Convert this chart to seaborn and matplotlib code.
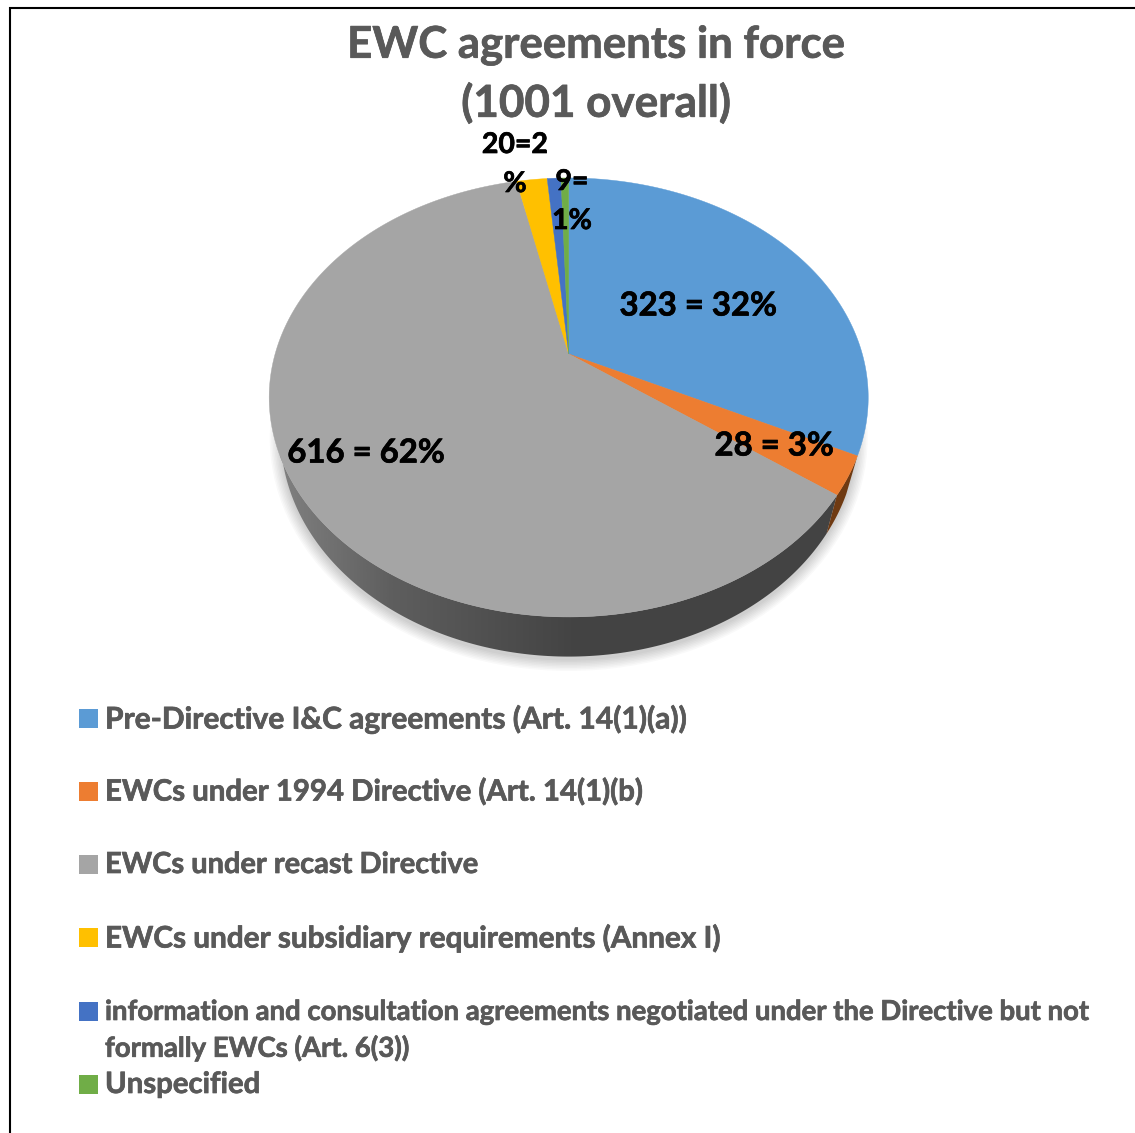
import numpy as np
import seaborn as sns
import matplotlib
matplotlib.use("Agg")
import matplotlib.pyplot as plt
import matplotlib.patheffects as pe
from matplotlib.colors import LinearSegmentedColormap
from matplotlib.patches import Polygon, Rectangle, Ellipse

sns.set_theme(style="white")
plt.rcParams['font.family'] = ['Lato', 'DejaVu Sans']

# data
categories = [
    "Pre-Directive I&C agreements (Art. 14(1)(a))",
    "EWCs under 1994 Directive (Art. 14(1)(b)",
    "EWCs under recast Directive",
    "EWCs under subsidiary requirements (Annex I)",
    "information and consultation agreements negotiated under the Directive but not\nformally EWCs (Art. 6(3))",
    "Unspecified",
]
values = [323, 28, 616, 20, 9, 5]
colors = ["#5b9bd5", "#ed7d31", "#a5a5a5", "#ffc000", "#4472c4", "#70ad47"]
title_lines = ["EWC agreements in force", "(1001 overall)"]

# slice labels, text lines with their centre in picture pixels
slice_labels = [
    ("323 = 32%", 698, 306, 23.7),
    ("28 = 3%", 774, 446, 23.7),
    ("616 = 62%", 366, 453, 23.7),
    ("20=2", 515, 145, 20.5),
    ("%", 515, 184, 20.5),
    ("9=", 572, 182, 20.5),
    ("1%", 572, 221, 20.5),
]
legend_rows = [718, 791, 864, 937, 1011, 1084]
legend_sizes = [21.55, 21.15, 20.9, 21.4, 19.8, 21.1]

TEXT_GREY = "#595959"
TILT = 0.198  # perspective strength of the pie
CX = 568.7


def project(u, v, cy, a, b):
    # circle coords to picture pixels, far side gets smaller
    w = 1 + TILT * v
    return CX + a * u / w, cy - b * v / w


def top_face(theta):
    t = np.radians(theta)
    return project(np.cos(t), np.sin(t), 354, 293.6, 210.9)


def bottom_face(theta):
    t = np.radians(theta)
    return project(np.cos(t), np.sin(t), 391, 282.3, 213)


def bold_text(x, y, txt, size, col, ha="center"):
    ax.text(x, y, txt, ha=ha, va="center", fontsize=size, fontweight="bold", color=col, zorder=6,
            path_effects=[pe.withStroke(linewidth=0.5, foreground=col)])


fig = plt.figure(figsize=(11.35, 11.33), dpi=100, facecolor="white")
ax = fig.add_axes([0, 0, 1, 1])

wedges, _ = ax.pie(values, colors=colors, startangle=90, counterclock=False)
spans = [(w.theta1, w.theta2) for w in wedges]
for w in wedges:
    w.remove()

ax.set_aspect("auto")
ax.set_xlim(0, 1135)
ax.set_ylim(1133, 0)
ax.axis("off")

# frame
ax.plot([1135, 10, 10], [8, 8, 1133], color="black", lw=1.5, solid_joinstyle="miter", zorder=1)

# soft shadow below the pie
for grow in np.arange(11, 0, -1.5):
    ax.add_patch(Ellipse((CX, 438), 576 + 2 * grow, 444 + 2 * grow, fc="black", ec="none", alpha=0.022, zorder=2))

# side of the pie
gray_span = spans[2]
t = np.linspace(gray_span[0], gray_span[1], 300)
tx, ty = top_face(t)
bx, by = bottom_face(t)
side = Polygon(np.r_[np.c_[tx, ty], np.c_[bx, by][::-1]], fc="none", ec="none", zorder=3)
ax.add_patch(side)
rim = LinearSegmentedColormap.from_list("rim", [(0, "#808080"), (0.2, "#5e5e5e"), (0.42, "#4c4c4c"), (0.52, "#444444"), (1, "#434343")])
grad = ax.imshow(np.linspace(0, 1, 512)[None, :], cmap=rim, extent=(280, 840, 700, 400), aspect="auto", zorder=3)
grad.set_clip_path(side)
ax.set_xlim(0, 1135)
ax.set_ylim(1133, 0)

orange_span = spans[1]
t = np.linspace(orange_span[0], orange_span[1], 60)
tx, ty = top_face(t)
bx, by = bottom_face(t)
ax.add_patch(Polygon(np.r_[np.c_[tx, ty], np.c_[bx, by][::-1]], fc="#6f3a12", ec="none", zorder=3))

# top of the pie
for (t1, t2), col in zip(spans, colors):
    t = np.linspace(t1, t2, 200)
    x, y = top_face(t)
    ax0, ay0 = project(0, 0, 354, 293.6, 210.9)
    pts = np.r_[[[ax0, ay0]], np.c_[x, y]]
    ax.add_patch(Polygon(pts, fc=col, ec=col, lw=0.3, zorder=4))

# title
bold_text(596, 45, title_lines[0], 31.5, TEXT_GREY)
bold_text(596, 103, title_lines[1], 31.7, TEXT_GREY)

for txt, x, y, size in slice_labels:
    bold_text(x, y, txt, size, "black")

# legend
for label, col, y, size in zip(categories, colors, legend_rows, legend_sizes):
    ax.add_patch(Rectangle((79, y - 9.5), 19, 19, fc=col, ec="none", zorder=5))
    lines = label.split("\n")
    for i, line in enumerate(lines):
        bold_text(105, y + 1 + i * 36, line, size, TEXT_GREY, ha="left")

fig.savefig("out.png", dpi=100, facecolor="white")
